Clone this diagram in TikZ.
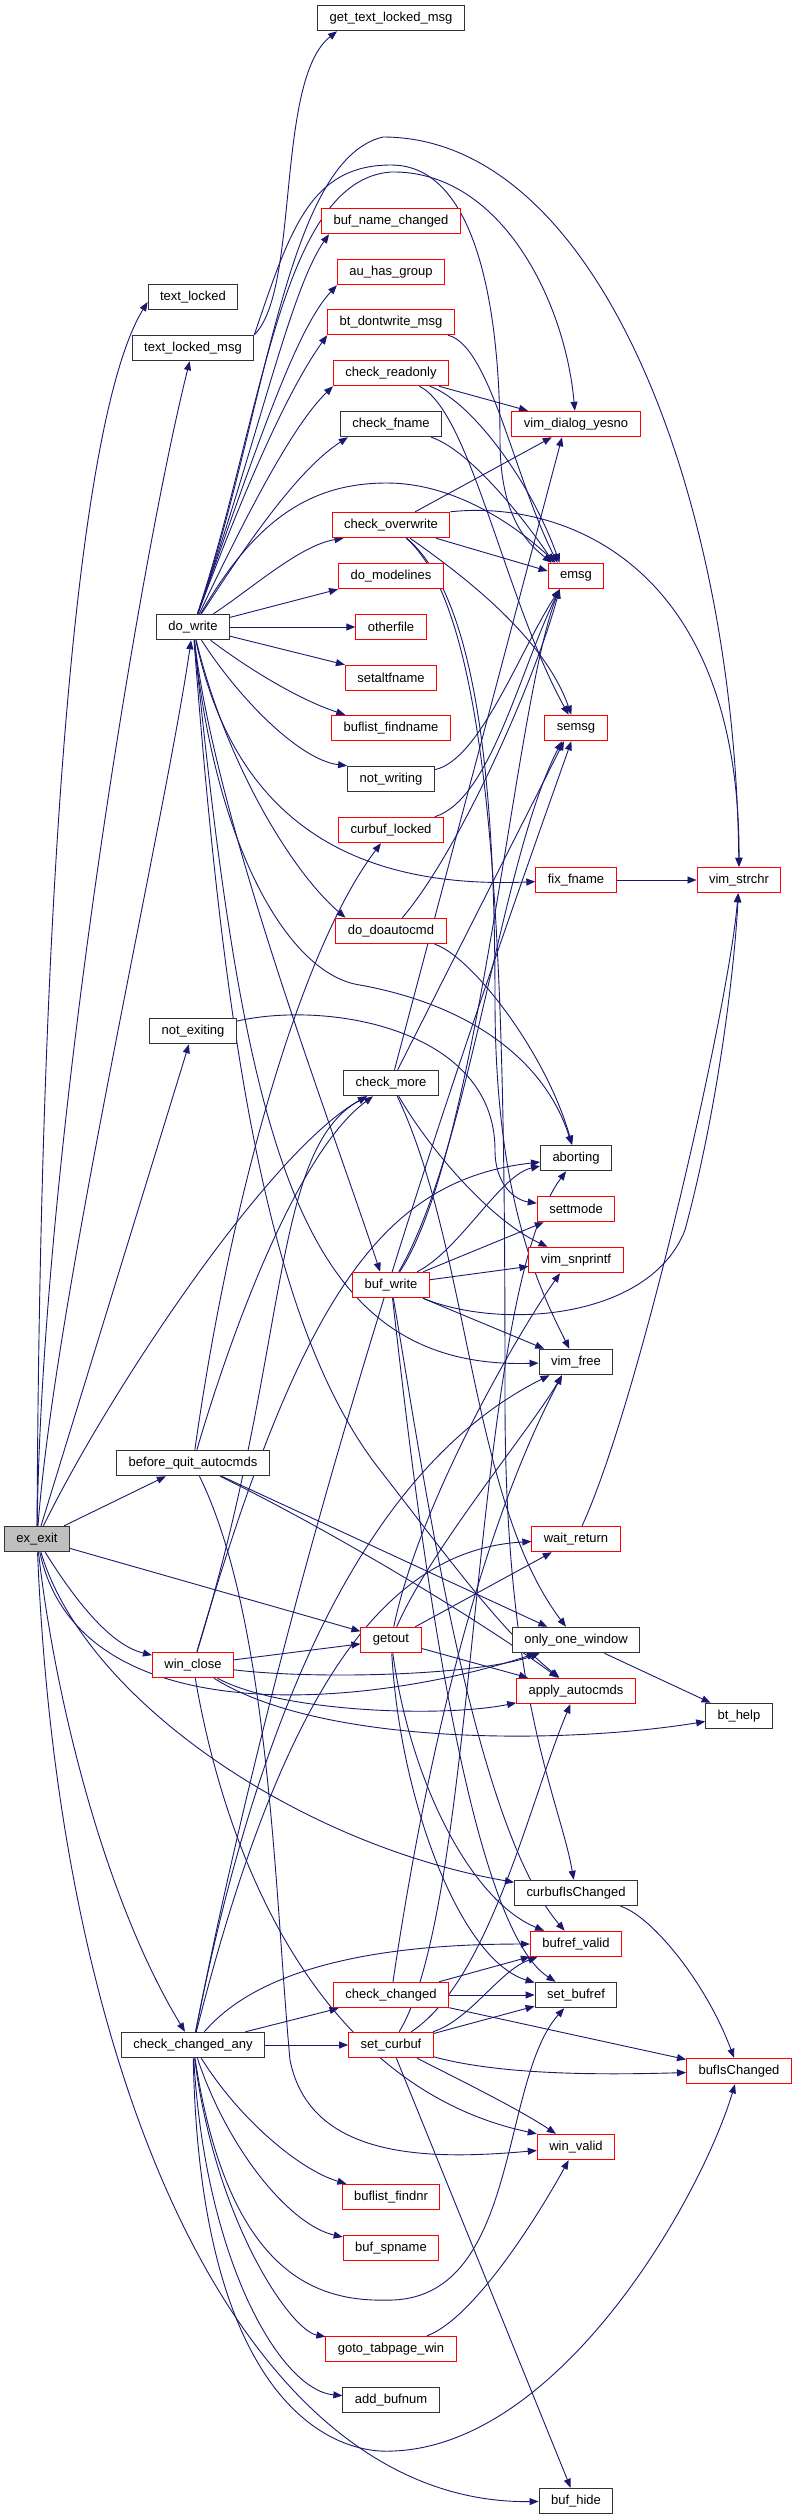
\documentclass[tikz,border=0pt]{standalone}
\usepackage{fontspec}
\usetikzlibrary{arrows.meta, backgrounds}
\newfontfamily\gfont{Liberation Sans}
\definecolor{navy}{HTML}{191970}
\definecolor{rootfill}{HTML}{BFBFBF}

\begin{document}
\begin{tikzpicture}[
  x=1pt, y=-1pt,
  base/.style={draw, fill=white, font=\gfont\fontsize{13}{15}\selectfont, minimum height=25.5pt,
    inner xsep=12pt, inner ysep=0pt, line width=1pt},
  fn/.style={base, draw=black!80},
  rn/.style={base, draw=red},
  root/.style={fn, fill=rootfill},
  edge/.style={navy, line width=0.9pt, -{Triangle[length=9pt, width=7pt]}},
]
\useasboundingbox (0,0) rectangle (793,2520);

% ---- column 1: the root ----
\node[root] (exexit) at (37,1539) {ex\_exit};

% ---- column 2 ----
\node[fn] (textlocked)    at (193,297)  {text\_locked};
\node[fn] (textlockedmsg) at (193,348)  {text\_locked\_msg};
\node[fn] (dowrite)       at (193,627)  {do\_write};
\node[fn] (notexiting)    at (193,1031) {not\_exiting};
\node[fn] (beforequit)    at (193,1463) {before\_quit\_autocmds};
\node[rn] (winclose)      at (193,1665) {win\_close};
\node[fn] (checkany)      at (193,2045) {check\_changed\_any};

% ---- column 3 ----
\node[fn] (gettext)      at (391,18)   {get\_text\_locked\_msg};
\node[rn] (bufnamechg)   at (391,221)  {buf\_name\_changed};
\node[rn] (auhas)        at (391,272)  {au\_has\_group};
\node[rn] (btdont)       at (391,322)  {bt\_dontwrite\_msg};
\node[rn] (checkro)      at (391,373)  {check\_readonly};
\node[fn] (checkfname)   at (391,424)  {check\_fname};
\node[rn] (checkover)    at (391,525)  {check\_overwrite};
\node[rn] (domodel)      at (391,576)  {do\_modelines};
\node[rn] (otherfile)    at (391,627)  {otherfile};
\node[rn] (setalt)       at (391,678)  {setaltfname};
\node[rn] (buflistfn)    at (391,728)  {buflist\_findname};
\node[fn] (notwriting)   at (391,779)  {not\_writing};
\node[rn] (curbuflocked) at (391,830)  {curbuf\_locked};
\node[rn] (doauto)       at (391,931)  {do\_doautocmd};
\node[fn] (checkmore)    at (391,1083) {check\_more};
\node[rn] (bufwrite)     at (391,1285) {buf\_write};
\node[rn] (getout)       at (391,1640) {getout};
\node[rn] (checkchg)     at (391,1995) {check\_changed};
\node[rn] (setcurbuf)    at (391,2045) {set\_curbuf};
\node[rn] (buflistnr)    at (391,2197) {buflist\_findnr};
\node[rn] (bufspname)    at (391,2248) {buf\_spname};
\node[rn] (gototab)      at (391,2349) {goto\_tabpage\_win};
\node[fn] (addbufnum)    at (391,2400) {add\_bufnum};

% ---- column 4 ----
\node[rn] (dialog)     at (576,424)  {vim\_dialog\_yesno};
\node[rn] (emsg)       at (576,576)  {emsg};
\node[rn] (semsg)      at (576,728)  {semsg};
\node[rn] (fixfname)   at (576,880)  {fix\_fname};
\node[fn] (aborting)   at (576,1158) {aborting};
\node[rn] (settmode)   at (576,1209) {settmode};
\node[rn] (snprintf)   at (576,1260) {vim\_snprintf};
\node[fn] (vimfree)    at (576,1362) {vim\_free};
\node[rn] (waitret)    at (576,1539) {wait\_return};
\node[fn] (onlyone)    at (576,1640) {only\_one\_window};
\node[rn] (applyauto)  at (576,1691) {apply\_autocmds};
\node[fn] (curbufchg)  at (576,1893) {curbufIsChanged};
\node[rn] (bufvalid)   at (576,1944) {bufref\_valid};
\node[fn] (setbufref)  at (576,1995) {set\_bufref};
\node[rn] (winvalid)   at (576,2147) {win\_valid};
\node[fn] (bufhide)    at (576,2501) {buf\_hide};

% ---- column 5 ----
\node[rn] (vimstrchr) at (739,880)  {vim\_strchr};
\node[fn] (bthelp)    at (739,1716) {bt\_help};
\node[rn] (bufischg)  at (739,2071) {bufIsChanged};

\begin{pgfonlayer}{background}
\fill[white] (0,0) rectangle (793,2520);

% ---- calls from ex_exit ----
\draw[edge] (exexit) .. controls (40,900) and (75,420) .. ([yshift=-5pt]textlocked.west);
\draw[edge] (exexit) .. controls (42,1150) and (140,560) .. (textlockedmsg);
\draw[edge] (exexit) .. controls (55,1300) and (165,820) .. (dowrite);
\draw[edge] (exexit) -- (notexiting);
\draw[edge] (exexit) .. controls (110,1390) and (270,1150) .. (checkmore);
\draw[edge] (exexit) -- (beforequit);
\draw[edge] (exexit) -- (getout);
\draw[edge] (exexit) .. controls (75,1600) and (110,1645) .. (winclose);
\draw[edge] (exexit) .. controls (80,1740) and (380,1705) .. (onlyone);
\draw[edge] (exexit) .. controls (85,1700) and (300,1845) .. (curbufchg);
\draw[edge] (exexit) .. controls (55,1700) and (105,1900) .. (checkany);
\draw[edge] (exexit) .. controls (60,2100) and (250,2505) .. (bufhide);

% ---- text_locked_msg ----
\draw[edge] (textlockedmsg.north east) .. controls (300,290) and (275,80) .. ([xshift=20pt]gettext.south west);
\draw[edge] (textlockedmsg.north east) .. controls (290,230) and (310,165) .. (391,165)
  .. controls (480,165) and (500,320) .. (500,440) .. controls (500,520) and (530,545) .. ([xshift=4pt]emsg.north west);

% ---- do_write ----
\draw[edge] (dowrite) .. controls (258,440) and (290,290) .. ([xshift=8pt]bufnamechg.south west);
\draw[edge] (dowrite) .. controls (256,450) and (295,330) .. (auhas.south west);
\draw[edge] (dowrite) .. controls (255,460) and (295,380) .. (btdont.south west);
\draw[edge] (dowrite) .. controls (258,490) and (298,420) .. (checkro.south west);
\draw[edge] (dowrite) .. controls (262,520) and (305,465) .. ([xshift=8pt]checkfname.south west);
\draw[edge] (dowrite) .. controls (255,520) and (310,483) .. (387,483)
  .. controls (450,483) and (510,520) .. ([xshift=8pt]emsg.north west);
\draw[edge] (dowrite) .. controls (250,590) and (300,545) .. ([xshift=12pt]checkover.south west);
\draw[edge] (dowrite) -- (domodel.south west);
\draw[edge] (dowrite) -- (otherfile);
\draw[edge] (dowrite) -- (setalt.north west);
\draw[edge] (dowrite) .. controls (250,670) and (300,700) .. ([xshift=14pt]buflistfn.north west);
\draw[edge] (dowrite) .. controls (240,700) and (300,760) .. (notwriting.north west);
\draw[edge] (dowrite) .. controls (230,800) and (330,890) .. (fixfname);
\draw[edge] (dowrite) .. controls (225,760) and (290,870) .. ([xshift=10pt]doauto.north west);
\draw[edge] (dowrite) .. controls (215,850) and (290,975) .. (360,985)
  .. controls (470,1005) and (545,1060) .. (aborting);
\draw[edge] (dowrite) .. controls (215,820) and (330,1120) .. ([xshift=28pt]bufwrite.north west);
\draw[edge] (dowrite) .. controls (245,1150) and (300,1370) .. (vimfree);
\draw[edge] (dowrite) .. controls (225,1050) and (270,1330) .. (380,1470)
  .. controls (450,1560) and (500,1630) .. (applyauto);
\draw[edge] (dowrite) .. controls (262,420) and (280,180) .. (391,172)
  .. controls (500,170) and (565,300) .. (dialog);
\draw[edge] (dowrite) .. controls (265,420) and (285,160) .. (383,137)
  .. controls (600,137) and (735,500) .. (vimstrchr);

% ---- check_overwrite, check_readonly and the other writers ----
\draw[edge] (checkover) -- (dialog);
\draw[edge] (checkover) -- ([yshift=5pt]emsg.west);
\draw[edge] (checkover.north east) .. controls (560,500) and (740,560) .. (vimstrchr);
\draw[edge] (checkover) .. controls (470,580) and (545,640) .. (semsg);
\draw[edge] (checkover) .. controls (480,600) and (495,800) .. (495,1000)
  .. controls (495,1200) and (540,1290) .. (vimfree);
\draw[edge] (checkover) .. controls (500,620) and (505,1000) .. (505,1400)
  .. controls (505,1700) and (560,1800) .. (curbufchg);
\draw[edge] (checkro) -- (dialog);
\draw[edge] (checkro) .. controls (470,400) and (530,480) .. ([xshift=12pt]emsg.north west);
\draw[edge] (checkro) .. controls (470,410) and (505,600) .. (semsg);
\draw[edge] (btdont) .. controls (490,345) and (515,480) .. ([xshift=10pt]emsg.north west);
\draw[edge] (checkfname) .. controls (470,450) and (525,520) .. ([xshift=6pt]emsg.north west);
\draw[edge] (notwriting) .. controls (480,760) and (520,650) .. ([xshift=12pt]emsg.south west);
\draw[edge] (curbuflocked) .. controls (490,800) and (520,670) .. ([xshift=12pt]emsg.south west);
\draw[edge] (doauto) .. controls (460,850) and (535,680) .. ([xshift=12pt]emsg.south west);
\draw[edge] (doauto) .. controls (470,955) and (545,1050) .. (aborting);
\draw[edge] (fixfname) -- (vimstrchr);
\draw[edge] (notexiting) .. controls (330,1000) and (495,1030) .. (495,1150)
  .. controls (495,1185) and (515,1200) .. (settmode);

% ---- check_more ----
\draw[edge] (checkmore) -- ([xshift=-14pt]dialog.south);
\draw[edge] (checkmore) -- ([xshift=-12pt]semsg.south);
\draw[edge] (checkmore) .. controls (430,1150) and (490,1220) .. (snprintf);
\draw[edge] (checkmore) .. controls (470,1250) and (470,1500) .. (onlyone);

% ---- buf_write ----
\draw[edge] (bufwrite) .. controls (480,1150) and (515,700) .. ([xshift=12pt]emsg.south west);
\draw[edge] (bufwrite) .. controls (470,1150) and (500,860) .. ([xshift=-14pt]semsg.south);
\draw[edge] (bufwrite) .. controls (460,1250) and (500,1175) .. (aborting);
\draw[edge] (bufwrite) -- (settmode);
\draw[edge] (bufwrite) -- (snprintf);
\draw[edge] (bufwrite) .. controls (500,1330) and (650,1320) .. (685,1230)
  .. controls (720,1100) and (735,960) .. (vimstrchr);
\draw[edge] (bufwrite) -- (vimfree);
\draw[edge] (bufwrite) .. controls (420,1450) and (470,1820) .. (bufvalid);
\draw[edge] (bufwrite) .. controls (410,1450) and (460,1920) .. (setbufref);
\draw[edge] (waitret) .. controls (640,1400) and (730,1000) .. (vimstrchr);

% ---- before_quit_autocmds ----
\draw[edge] (beforequit) .. controls (230,1200) and (300,950) .. (curbuflocked);
\draw[edge] (beforequit) .. controls (235,1320) and (300,1150) .. (checkmore);
\draw[edge] (beforequit) -- (onlyone);
\draw[edge] (beforequit) .. controls (330,1530) and (480,1620) .. (applyauto);
\draw[edge] (beforequit) .. controls (270,1620) and (275,1900) .. (290,2060)
  .. controls (310,2160) and (430,2160) .. (winvalid);

% ---- win_close ----
\draw[edge] (winclose) -- (getout);
\draw[edge] (winclose) .. controls (320,1680) and (480,1675) .. (onlyone);
\draw[edge] (winclose) .. controls (280,1712) and (440,1718) .. (applyauto);
\draw[edge] (winclose) .. controls (320,1745) and (560,1745) .. (bthelp);
\draw[edge] (winclose) .. controls (230,1880) and (330,2090) .. (winvalid.north west);
\draw[edge] (winclose) .. controls (290,1350) and (270,1150) .. (checkmore);
\draw[edge] (winclose) .. controls (300,1300) and (380,1180) .. (aborting);

% ---- getout ----
\draw[edge] (getout) .. controls (420,1500) and (520,1330) .. ([xshift=-16pt]snprintf.south);
\draw[edge] (getout) .. controls (430,1550) and (530,1430) .. ([xshift=-14pt]vimfree.south);
\draw[edge] (getout) -- (waitret);
\draw[edge] (getout) -- (applyauto);
\draw[edge] (getout) .. controls (410,1780) and (470,1900) .. (bufvalid);
\draw[edge] (getout) .. controls (400,1800) and (460,1960) .. (setbufref);
\draw[edge] (onlyone) -- (bthelp);
\draw[edge] (curbufchg) .. controls (650,1915) and (705,1980) .. (bufischg);

% ---- check_changed_any ----
\draw[edge] (checkany) -- (checkchg);
\draw[edge] (checkany) -- (setcurbuf);
\draw[edge] (checkany) .. controls (270,1955) and (420,1944) .. (bufvalid);
\draw[edge] (checkany) .. controls (300,1500) and (480,1000) .. (semsg);
\draw[edge] (checkany) .. controls (280,1600) and (420,1440) .. (vimfree);
\draw[edge] (checkany) .. controls (280,1700) and (380,1550) .. (waitret);
\draw[edge] (checkany) .. controls (240,2120) and (300,2170) .. (buflistnr);
\draw[edge] (checkany) .. controls (228,2150) and (290,2225) .. (bufspname);
\draw[edge] (checkany) .. controls (215,2220) and (290,2330) .. (gototab);
\draw[edge] (checkany) .. controls (205,2260) and (280,2390) .. (addbufnum);
\draw[edge] (checkany) .. controls (200,2400) and (330,2455) .. (393,2451)
  .. controls (560,2445) and (700,2200) .. (bufischg);
\draw[edge] (checkany) .. controls (230,2290) and (330,2302) .. (393,2300)
  .. controls (520,2295) and (500,2080) .. (setbufref);

% ---- check_changed and set_curbuf ----
\draw[edge] (checkchg) -- (setbufref);
\draw[edge] (checkchg) -- (bufvalid);
\draw[edge] (checkchg) -- (bufischg);
\draw[edge] (checkchg) .. controls (420,1800) and (470,1550) .. ([xshift=-14pt]vimfree.south);
\draw[edge] (setcurbuf) -- (setbufref);
\draw[edge] (setcurbuf) .. controls (470,2020) and (500,1970) .. (bufvalid);
\draw[edge] (setcurbuf) .. controls (500,2075) and (600,2075) .. (bufischg);
\draw[edge] (setcurbuf) .. controls (470,2085) and (520,2110) .. (winvalid);
\draw[edge] (setcurbuf) -- (bufhide);
\draw[edge] (setcurbuf) .. controls (490,1980) and (530,1800) .. (applyauto);
\draw[edge] (setcurbuf) .. controls (480,1900) and (470,1300) .. (aborting);
\draw[edge] (gototab) .. controls (470,2320) and (530,2230) .. (winvalid);
\end{pgfonlayer}

\end{tikzpicture}
\end{document}
